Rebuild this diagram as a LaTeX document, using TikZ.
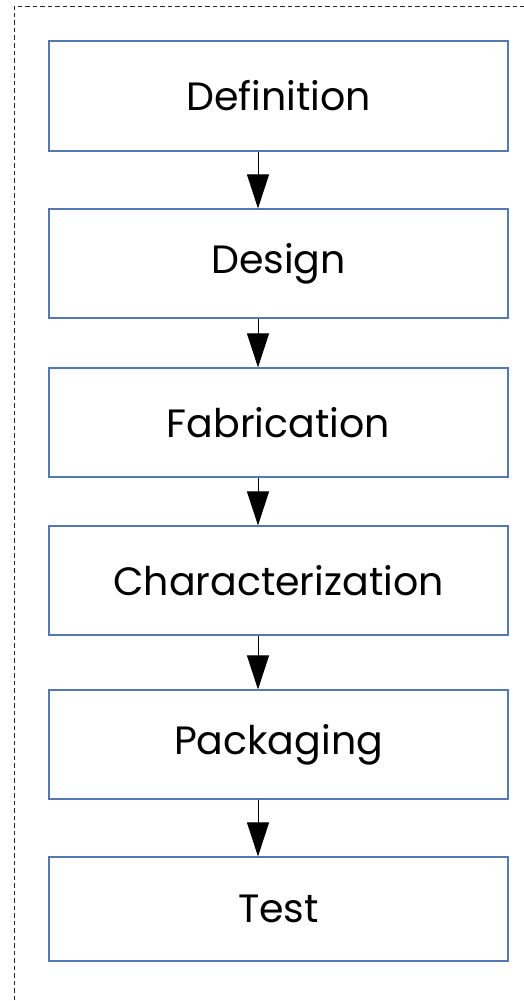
\documentclass[tikz,border=0pt]{standalone}
\usepackage{fontspec}
\setmainfont{Poppins}
\usetikzlibrary{arrows.meta}
\definecolor{boxline}{RGB}{84,120,178}
\definecolor{frameline}{RGB}{40,40,40}
\tikzset{
  stagebox/.style={draw=boxline, line width=1.1pt, minimum width=459pt, minimum height=110pt,
    inner sep=0pt, font=\fontsize{39.5}{44}\selectfont, text=black},
  flowarrow/.style={draw=black, line width=0.9pt,
    -{Triangle[length=34pt, width=22pt]}, shorten >=0pt},
}
\begin{document}
\begin{tikzpicture}[x=1pt, y=-1pt]
\useasboundingbox (0,0) rectangle (524,1001);
\begin{scope}
\clip (0,0) rectangle (524,1001);
\draw[frameline, line width=0.9pt, dash pattern=on 4.5pt off 3pt] (14,1030) -- (14,6) -- (540,6);
\end{scope}
\node[stagebox, minimum height=110pt] (def)  at (278.5,96)  {Definition};
\node[stagebox, minimum height=109pt] (des)  at (278.5,263.5) {Design};
\node[stagebox, minimum height=109pt] (fab)  at (278.5,422.5) {Fabrication};
\node[stagebox, minimum height=109pt] (char) at (278.5,580.5) {Characterization};
\node[stagebox, minimum height=109pt] (pack) at (278.5,744.5) {Packaging};
\node[stagebox, minimum height=104pt] (test) at (278.5,909)  {Test};
\foreach \a/\b in {def/des, des/fab, fab/char, char/pack, pack/test}{
  \draw[flowarrow] (\a.south -| 258,0) -- (\b.north -| 258,0);
}
\end{tikzpicture}
\end{document}
